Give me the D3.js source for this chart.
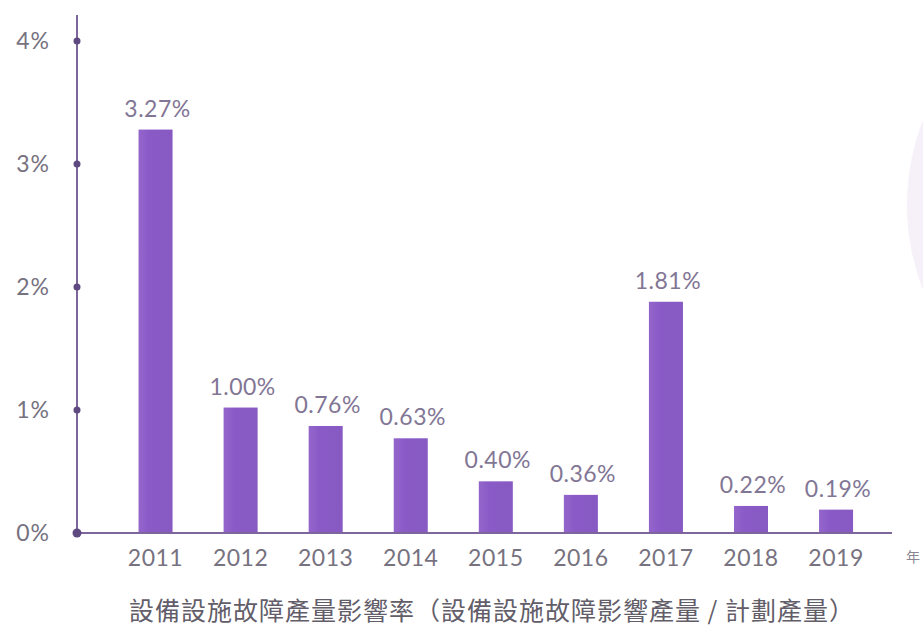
<!DOCTYPE html>
<html>
<head>
<meta charset="utf-8">
<script src="https://cdn.jsdelivr.net/npm/d3@7"></script>
<style>
  html, body { margin: 0; padding: 0; background: #fff; overflow: hidden; }
  svg { display: block; }
</style>
</head>
<body>
<svg id="chart" width="923" height="631"></svg>
<script>
const years = ["2011","2012","2013","2014","2015","2016","2017","2018","2019"];
const barValues = [3.28, 1.02, 0.87, 0.77, 0.42, 0.31, 1.88, 0.22, 0.19];
const labelText = ["3.27%","1.00%","0.76%","0.63%","0.40%","0.36%","1.81%","0.22%","0.19%"];
const yTicks = [0, 1, 2, 3, 4];
const yTickLabels = ["0%","1%","2%","3%","4%"];
const title = "設備設施故障產量影響率（設備設施故障影響產量 / 計劃產量）";
const unitText = "年";

const svg = d3.select("#chart");
const defs = svg.append("defs");
const grad = defs.append("linearGradient").attr("id","barGrad").attr("x1","0").attr("x2","1").attr("y1","0").attr("y2","0");
grad.append("stop").attr("offset","0%").attr("stop-color","#9466cc");
grad.append("stop").attr("offset","30%").attr("stop-color","#8a5bc6");
grad.append("stop").attr("offset","100%").attr("stop-color","#8759c2");

// light decorative circle at right edge
svg.append("circle").attr("cx", 1140).attr("cy", 205).attr("r", 233).attr("fill", "#f6f0f8");

const x = d3.scaleBand().domain(years).range([96, 895.6]).paddingInner(0.6).paddingOuter(0.5);
const y = d3.scaleLinear().domain([0, 4]).range([533, 41]);

const axisColor = "#7d669b";
const textGray = "#77727f";

// bars
svg.append("g").selectAll("rect").data(years).join("rect")
  .attr("x", d => x(d))
  .attr("width", x.bandwidth())
  .attr("y", (d,i) => y(barValues[i]))
  .attr("height", (d,i) => y(0) - y(barValues[i]))
  .attr("fill", "url(#barGrad)");

// y axis line
svg.append("line").attr("x1", 77).attr("x2", 77).attr("y1", 15).attr("y2", y(0))
  .attr("stroke", axisColor).attr("stroke-width", 2);
// x axis line
svg.append("line").attr("x1", 77).attr("x2", 892).attr("y1", y(0)).attr("y2", y(0))
  .attr("stroke", axisColor).attr("stroke-width", 2);

// y tick dots + labels
svg.append("g").selectAll("circle").data(yTicks).join("circle")
  .attr("cx", 77).attr("cy", d => y(d)).attr("r", d => d === 0 ? 4.5 : 3.5)
  .attr("fill", "#5e4a80");
svg.append("g").selectAll("text").data(yTicks).join("text")
  .attr("x", 50).attr("y", d => y(d)).attr("dy", "0.36em")
  .attr("text-anchor", "end")
  .attr("font-family", "Lato, 'Open Sans', sans-serif")
  .attr("font-size", 23).attr("fill", textGray)
  .attr("letter-spacing", 1)
  .text((d,i) => yTickLabels[i]);

// x tick labels
svg.append("g").selectAll("text").data(years).join("text")
  .attr("x", d => x(d) + x.bandwidth()/2).attr("y", 566)
  .attr("text-anchor", "middle")
  .attr("font-family", "Lato, 'Open Sans', sans-serif")
  .attr("font-size", 23).attr("fill", textGray)
  .attr("letter-spacing", 0.5)
  .text(d => d);

// value labels
svg.append("g").selectAll("text").data(years).join("text")
  .attr("x", d => x(d) + x.bandwidth()/2 + 2).attr("y", (d,i) => y(barValues[i]) - 13)
  .attr("text-anchor", "middle")
  .attr("font-family", "Lato, 'Open Sans', sans-serif")
  .attr("font-size", 23).attr("fill", "#827695")
  .attr("letter-spacing", 0.5)
  .text((d,i) => labelText[i]);

// small unit char at right edge
svg.append("text").attr("x", 906).attr("y", 562)
  .attr("font-family", "'Noto Sans CJK TC', sans-serif")
  .attr("font-size", 14).attr("fill", "#8a8590").text(unitText);

// bottom title
svg.append("text").attr("x", 492).attr("y", 620)
  .attr("text-anchor", "middle")
  .attr("font-family", "'Noto Sans CJK TC', sans-serif")
  .attr("font-size", 25).attr("fill", "#625d69")
  .attr("letter-spacing", 1)
  .text(title);
</script>
</body>
</html>
